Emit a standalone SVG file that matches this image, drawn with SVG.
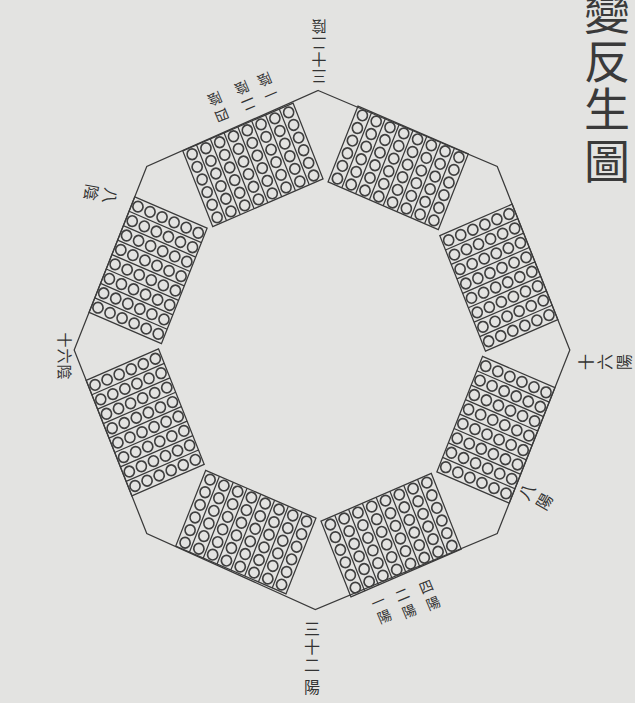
<svg xmlns="http://www.w3.org/2000/svg" width="635" height="703" viewBox="0 0 635 703">
<style>
.bg{fill:#e3e3e1}
.ln{fill:none;stroke:#3a3a3a;stroke-width:1.3;stroke-linejoin:miter}
.c{fill:none;stroke:#3f3f3f;stroke-width:1.7}
.t{font-family:"Noto Sans CJK TC","Noto Sans CJK SC",sans-serif;fill:#333;text-anchor:middle;dominant-baseline:central}
.s14{font-size:14px}
.s15{font-size:15px}
.s16{font-size:16px}
.title{font-size:46px;fill:#3a3a3a}
</style>
<defs>
<g id="strip" class="c">
<circle cx="7.8125" cy="-232.92" r="5.3"/>
<circle cx="7.8125" cy="-219.25" r="5.3"/>
<circle cx="7.8125" cy="-205.58" r="5.3"/>
<circle cx="7.8125" cy="-191.92" r="5.3"/>
<circle cx="7.8125" cy="-178.25" r="5.3"/>
<circle cx="7.8125" cy="-164.58" r="5.3"/>
</g>
<g id="blk">
<rect class="ln" x="-58.5" y="-239.75" width="125" height="82"/>
<path class="ln" d="M-42.875-239.75v82M-27.25-239.75v82M-11.625-239.75v82M4-239.75v82M19.625-239.75v82M35.25-239.75v82M50.875-239.75v82"/>
<use href="#strip" x="-58.5"/>
<use href="#strip" x="-42.875"/>
<use href="#strip" x="-27.25"/>
<use href="#strip" x="-11.625"/>
<use href="#strip" x="4"/>
<use href="#strip" x="19.625"/>
<use href="#strip" x="35.25"/>
<use href="#strip" x="50.875"/>
</g>
</defs>
<rect class="bg" x="0" y="0" width="635" height="703"/>

<g transform="translate(322,350) scale(0.955,1)">
<g id="connectors">
<polygon class="ln" points="-4,-259.5 183.5,-183.5 259.5,0 183.5,183.5 -7,259.5 -183.5,183.5 -259.5,0 -183.5,-183.5"/>
</g>
<g id="block-1" transform="rotate(-22.5)"><use href="#blk"/></g>
<g id="block-2" transform="rotate(22.5)"><use href="#blk"/></g>
<g id="block-3" transform="rotate(67.5)"><use href="#blk"/></g>
<g id="block-4" transform="rotate(112.5)"><use href="#blk"/></g>
<g id="block-5" transform="rotate(157.5)"><use href="#blk"/></g>
<g id="block-6" transform="rotate(202.5)"><use href="#blk"/></g>
<g id="block-7" transform="rotate(247.5)"><use href="#blk"/></g>
<g id="block-8" transform="rotate(292.5)"><use href="#blk"/></g>
</g>

<g id="title">
<text class="t title"><tspan x="607" y="9">變</tspan><tspan x="607" y="58">反</tspan><tspan x="607" y="106">生</tspan><tspan x="607" y="158">圖</tspan></text>
</g>

<g id="label-32yin" transform="translate(319,88) rotate(180)">
<text class="t s15"><tspan x="0" y="10.5">三</tspan><tspan x="0" y="27">十</tspan><tspan x="0" y="43.5">二</tspan><tspan x="0" y="60.5">陰</tspan></text>
</g>
<g id="label-32yang" transform="translate(312,628)">
<text class="t s16"><tspan x="0" y="0">三</tspan><tspan x="0" y="18">十</tspan><tspan x="0" y="36">二</tspan><tspan x="0" y="58">陽</tspan></text>
</g>
<g id="label-16yang" transform="translate(585,362) rotate(-90)">
<text class="t s16"><tspan x="0" y="0">十</tspan><tspan x="0" y="19">六</tspan><tspan x="0" y="38">陽</tspan></text>
</g>
<g id="label-16yin" class="t s15">
<text transform="translate(65,340) rotate(90)">十</text>
<text transform="translate(65,356) rotate(90)">六</text>
<text transform="translate(65,372) rotate(90)">陰</text>
</g>
<g id="label-8yang" transform="translate(526,491) rotate(-60)">
<text class="t s16"><tspan x="0" y="0">八</tspan><tspan x="0" y="20">陽</tspan></text>
</g>
<g id="label-8yin" transform="translate(111,196) rotate(100)">
<text class="t s16"><tspan x="0" y="0">八</tspan><tspan x="0" y="19">陰</tspan></text>
</g>
<g id="label-4yin" transform="translate(222,116) rotate(157.5)"><text class="t s14"><tspan x="0" y="0">四</tspan><tspan x="0" y="18">陰</tspan></text></g>
<g id="label-2yin" transform="translate(249,105) rotate(157.5)"><text class="t s14"><tspan x="0" y="0">二</tspan><tspan x="0" y="18">陰</tspan></text></g>
<g id="label-1yin" transform="translate(271,95) rotate(157.5)"><text class="t s14"><tspan x="0" y="0">一</tspan><tspan x="0" y="16">陰</tspan></text></g>
<g id="label-4yang" transform="translate(426,586) rotate(-22.5)"><text class="t s14"><tspan x="0" y="0">四</tspan><tspan x="0" y="18">陽</tspan></text></g>
<g id="label-2yang" transform="translate(402,594) rotate(-22.5)"><text class="t s14"><tspan x="0" y="0">二</tspan><tspan x="0" y="18">陽</tspan></text></g>
<g id="label-1yang" transform="translate(378,601) rotate(-22.5)"><text class="t s14"><tspan x="0" y="0">一</tspan><tspan x="0" y="16">陽</tspan></text></g>
</svg>
